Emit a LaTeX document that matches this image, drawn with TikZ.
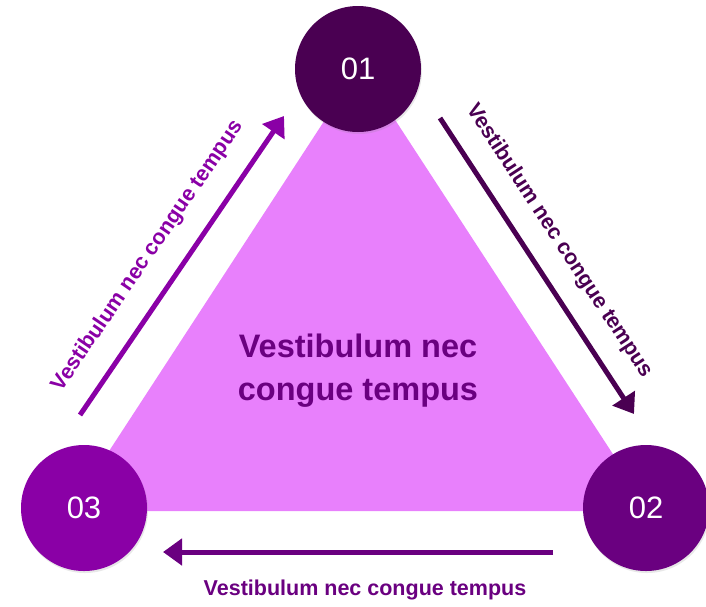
\documentclass[tikz,border=0pt]{standalone}
\usepackage{fontspec}
\setmainfont{Liberation Sans}
\usetikzlibrary{arrows.meta,shadows}

\definecolor{stepone}{HTML}{4A0052}
\definecolor{steptwo}{HTML}{6A0080}
\definecolor{stepthree}{HTML}{8A00A6}
\definecolor{core}{HTML}{E880FC}

\tikzset{
  badge/.style={circle, minimum size=126pt, inner sep=0pt, text=white,
    font=\fontsize{31}{31}\selectfont,
    drop shadow={opacity=0.18, shadow xshift=1pt, shadow yshift=-2pt}},
  flow/.style={line width=5pt, -{Triangle[length=19pt,width=26pt]}},
  lbl/.style={font=\bfseries\fontsize{21.5}{22}\selectfont, inner sep=0pt},
}

\begin{document}
\begin{tikzpicture}[x=1pt,y=-1pt]
  \useasboundingbox (0,0) rectangle (706,606);

  % central triangle
  \fill[core] (70,511) -- (360,66) -- (650,511) -- cycle;
  \node[font=\bfseries\fontsize{32.5}{43}\selectfont, text=steptwo, align=center]
    (core) at (358,371) {Vestibulum nec\\congue tempus};

  % arrow end points
  \coordinate (l0) at (80,415);   \coordinate (l1) at (284,116);
  \coordinate (r0) at (440,118);  \coordinate (r1) at (634,414);
  \coordinate (b0) at (553,552);  \coordinate (b1) at (163,552);

  % connectors
  \draw[flow, stepthree] (l0) -- (l1);
  \draw[flow, stepone] (r0) -- (r1);
  \draw[flow, steptwo] (b0) -- (b1);

  % connector labels
  \node[lbl, text=stepthree, rotate=55.7] (lblL) at (148,256) {Vestibulum nec congue tempus};
  \node[lbl, text=stepone, rotate=-56.8] (lblR) at (559,241) {Vestibulum nec congue tempus};
  \node[lbl, text=steptwo] (lblB) at (365,590) {Vestibulum nec congue tempus};

  % step badges
  \node[badge, fill=stepone] (s1) at (358,69) {01};
  \node[badge, fill=steptwo] (s2) at (646,508) {02};
  \node[badge, fill=stepthree] (s3) at (84,508) {03};
\end{tikzpicture}
\end{document}
